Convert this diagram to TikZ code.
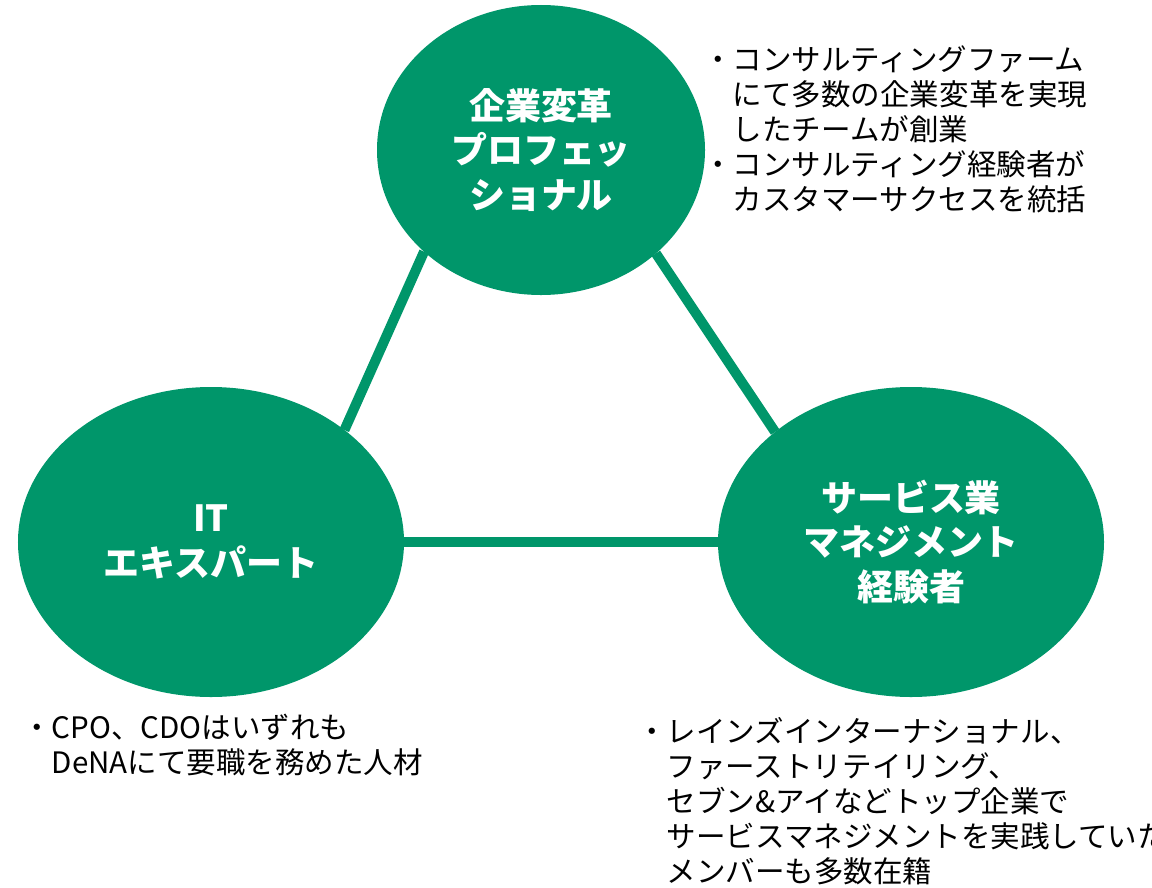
\documentclass[tikz,border=0pt]{standalone}
\usepackage{fontspec}
\setmainfont{Noto Sans CJK JP}
\usepackage{xcolor}
\usepackage{tikz}
\usetikzlibrary{calc}
\usetikzlibrary{shapes}
\usetikzlibrary{shapes.geometric}
\usetikzlibrary{positioning}
\definecolor{kgreen}{RGB}{0,150,106}
\tikzset{>=latex}
\tikzstyle{circ} = [ellipse, fill=kgreen, draw=none, inner sep=0pt, outer sep=0pt, text=white, align=center, font=\bfseries\fontsize{25.6}{31.5}\selectfont]
\tikzstyle{link} = [-, draw=kgreen, line width=7.1pt]
\tikzstyle{note} = [rectangle, draw=none, inner sep=0pt, align=left, anchor=north west, font=\fontsize{21}{24.9}\selectfont]

\begin{document}
\begin{tikzpicture}[x=0.25mm, y=-0.25mm]
\useasboundingbox (0, 0) rectangle (1152, 887);
\node [circ, minimum width=82mm, minimum height=72.5mm] (K) at (541, 150) {企業変革\\プロフェッ\\ショナル};
\node [circ, minimum width=96.5mm, minimum height=77.5mm] (I) at (211, 542) {IT\\エキスパート};
\node [circ, minimum width=96.5mm, minimum height=77.5mm] (S) at (911, 542) {サービス業\\マネジメント\\経験者};
\draw [link] (K.221) to (I.40);
\draw [link] (K.318) to (S.141);
\draw [link] (I.0) to (S.180);
\node [note] (Kn) at (703, 45) {・コンサルティングファーム\\\phantom{・}にて多数の企業変革を実現\\\phantom{・}したチームが創業\\・コンサルティング経験者が\\\phantom{・}カスタマーサクセスを統括};
\node [note] (In) at (22, 714) {・CPO、CDOはいずれも\\\phantom{・}DeNAにて要職を務めた人材};
\node [note] (Sn) at (637, 717) {・レインズインターナショナル、\\\phantom{・}ファーストリテイリング、\\\phantom{・}セブン\&アイなどトップ企業で\\\phantom{・}サービスマネジメントを実践していた\\\phantom{・}メンバーも多数在籍};
\end{tikzpicture}
\end{document}
